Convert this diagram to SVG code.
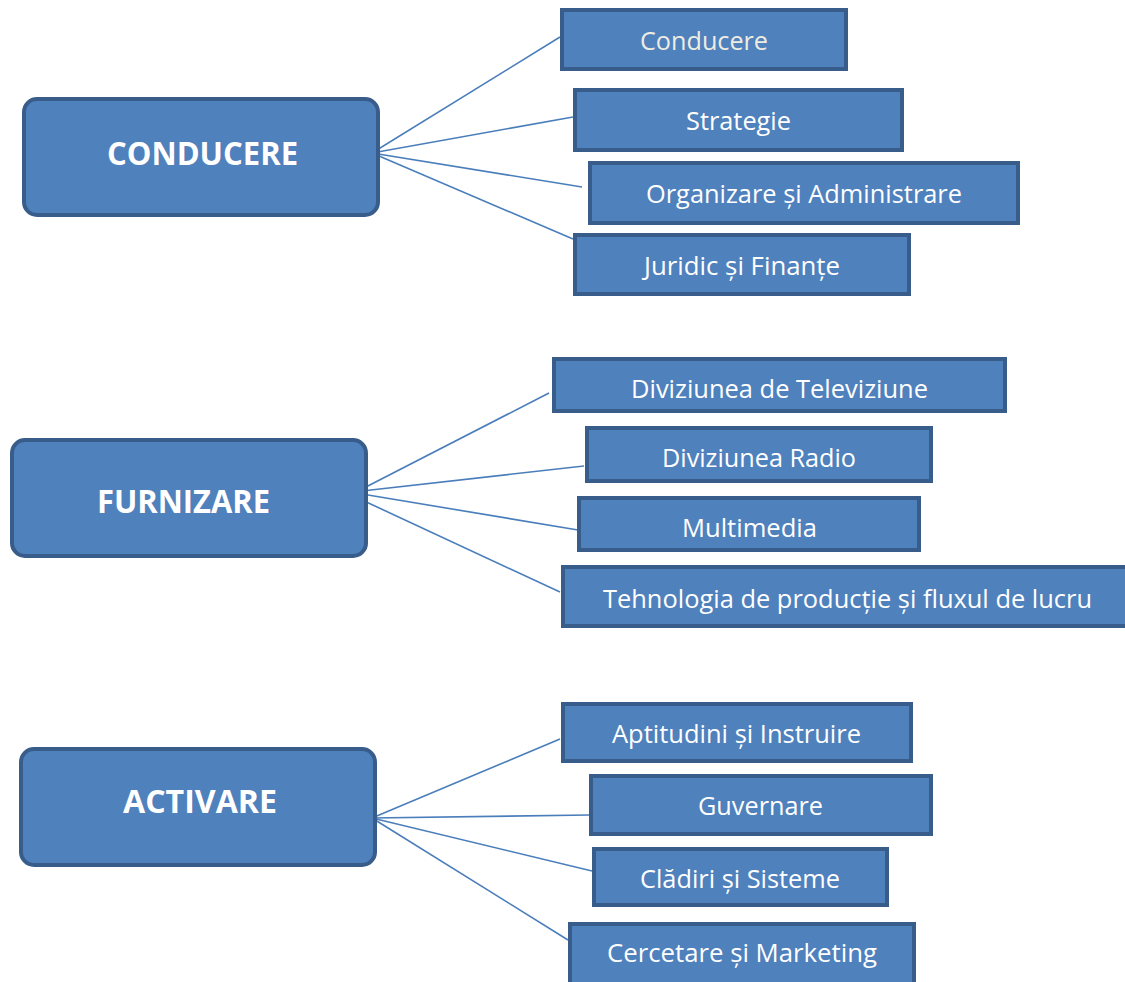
<svg xmlns="http://www.w3.org/2000/svg" width="1125" height="982" viewBox="0 0 1125 982">
<style>
.main rect{fill:#4F81BD;stroke:#385D8A;stroke-width:4}
.child rect{fill:#4F81BD;stroke:#385D8A;stroke-width:4}
.main text{font-family:"Open Sans","Liberation Sans",sans-serif;font-weight:bold;font-size:32px;fill:#FFFFFF}
.child text{font-family:"Open Sans","Liberation Sans",sans-serif;font-size:25px;fill:#FFFFFF}
#connectors line{stroke:#4A7EBB;stroke-width:1.6}
</style>
<rect width="1125" height="982" fill="#FFFFFF"/>
<g id="connectors">
<line x1="372" y1="153" x2="560" y2="37"/>
<line x1="372" y1="153" x2="573" y2="117"/>
<line x1="372" y1="153" x2="582" y2="187"/>
<line x1="372" y1="153" x2="573" y2="239"/>
<line x1="362" y1="489" x2="549" y2="393"/>
<line x1="362" y1="491" x2="584" y2="466"/>
<line x1="362" y1="494" x2="578" y2="530"/>
<line x1="362" y1="500" x2="560" y2="592"/>
<line x1="372" y1="818" x2="560" y2="739"/>
<line x1="372" y1="818" x2="589" y2="815"/>
<line x1="372" y1="818" x2="592" y2="871"/>
<line x1="372" y1="818" x2="568" y2="940"/>
</g>
<g id="node-conducere" class="main"><rect x="24" y="99" width="354" height="116" rx="13"/><text x="107" y="165" textLength="191" lengthAdjust="spacingAndGlyphs">CONDUCERE</text></g>
<g id="node-furnizare" class="main"><rect x="12" y="440" width="354" height="116" rx="13"/><text x="97" y="513" textLength="173" lengthAdjust="spacingAndGlyphs">FURNIZARE</text></g>
<g id="node-activare" class="main"><rect x="21" y="749" width="354" height="116" rx="13"/><text x="123" y="813" textLength="154" lengthAdjust="spacingAndGlyphs">ACTIVARE</text></g>
<g id="node-c1" class="child"><rect x="562" y="10" width="284" height="59"/><text x="640" y="50" textLength="128" lengthAdjust="spacingAndGlyphs" style="fill:#EEECE1">Conducere</text></g>
<g id="node-c2" class="child"><rect x="575" y="90" width="327" height="60"/><text x="686" y="130" textLength="105" lengthAdjust="spacingAndGlyphs">Strategie</text></g>
<g id="node-c3" class="child"><rect x="590" y="163" width="428" height="60"/><text x="646" y="203" textLength="316" lengthAdjust="spacingAndGlyphs">Organizare și Administrare</text></g>
<g id="node-c4" class="child"><rect x="575" y="235" width="334" height="59"/><text x="644" y="275" textLength="196" lengthAdjust="spacingAndGlyphs">Juridic și Finanțe</text></g>
<g id="node-f1" class="child"><rect x="554" y="359" width="451" height="52"/><text x="631" y="398" textLength="297" lengthAdjust="spacingAndGlyphs">Diviziunea de Televiziune</text></g>
<g id="node-f2" class="child"><rect x="587" y="428" width="344" height="53"/><text x="662" y="467" textLength="194" lengthAdjust="spacingAndGlyphs">Diviziunea Radio</text></g>
<g id="node-f3" class="child"><rect x="579" y="498" width="340" height="52"/><text x="682" y="537" textLength="135" lengthAdjust="spacingAndGlyphs">Multimedia</text></g>
<g id="node-f4" class="child"><rect x="563" y="567" width="580" height="59"/><text x="603" y="608" textLength="489" lengthAdjust="spacingAndGlyphs">Tehnologia de producție și fluxul de lucru</text></g>
<g id="node-a1" class="child"><rect x="563" y="704" width="348" height="57"/><text x="612" y="743" textLength="249" lengthAdjust="spacingAndGlyphs">Aptitudini și Instruire</text></g>
<g id="node-a2" class="child"><rect x="591" y="776" width="340" height="58"/><text x="698" y="815" textLength="125" lengthAdjust="spacingAndGlyphs">Guvernare</text></g>
<g id="node-a3" class="child"><rect x="594" y="849" width="293" height="56"/><text x="640" y="888" textLength="200" lengthAdjust="spacingAndGlyphs">Clădiri și Sisteme</text></g>
<g id="node-a4" class="child"><rect x="570" y="924" width="344" height="80"/><text x="607" y="962" textLength="270" lengthAdjust="spacingAndGlyphs">Cercetare și Marketing</text></g>
</svg>
